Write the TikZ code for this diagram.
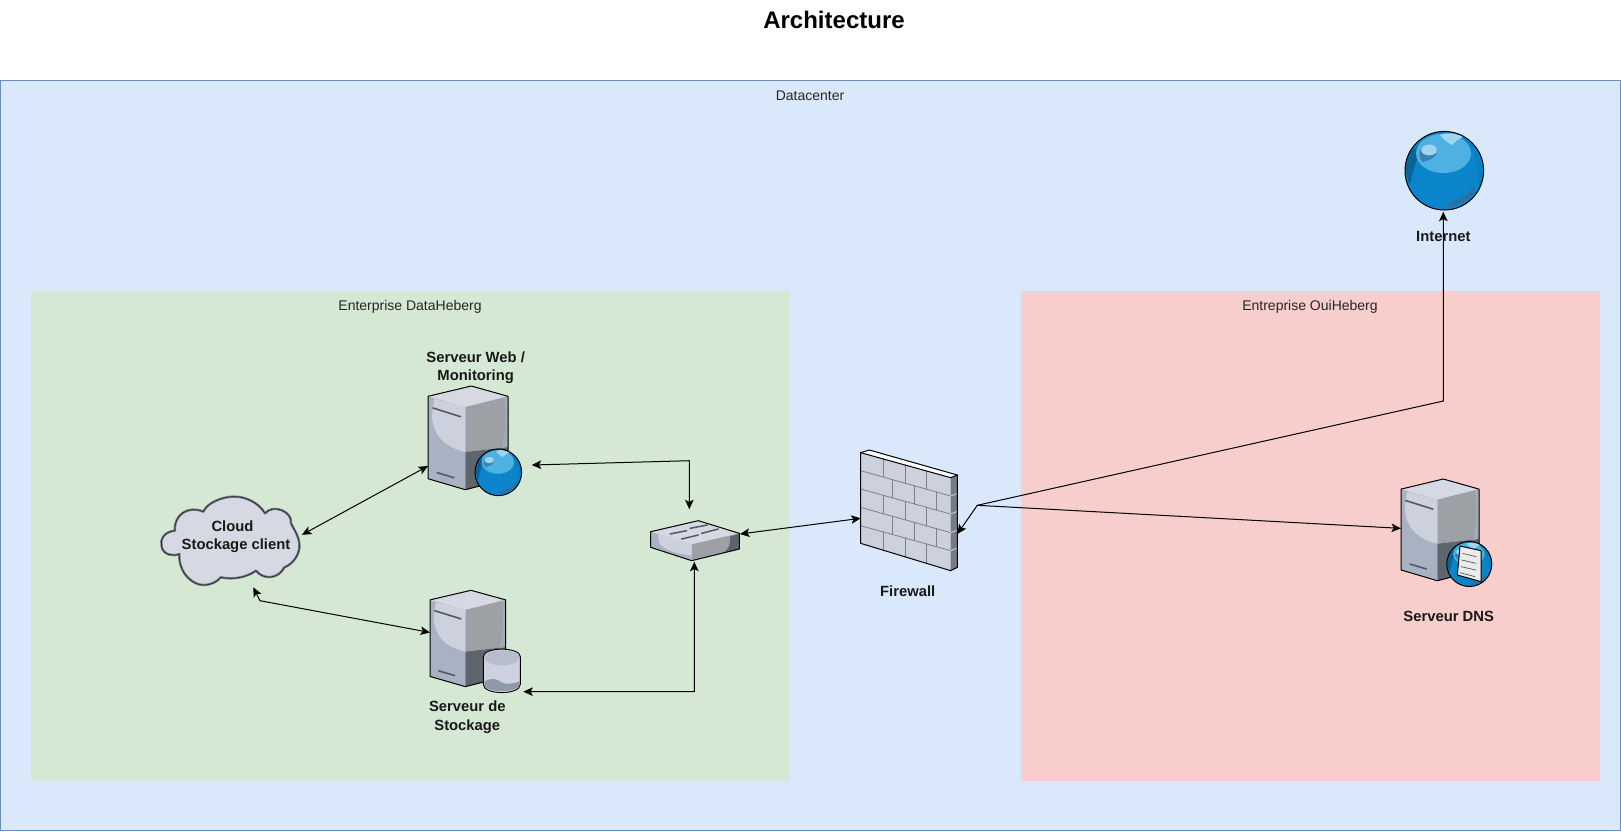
\documentclass[tikz,border=0pt]{standalone}
\usepackage{fontspec}
\setmainfont{Liberation Sans}
\usetikzlibrary{arrows.meta}

\definecolor{faceleft}{HTML}{A9B2C2}
\definecolor{facelight}{HTML}{CDD1DD}
\definecolor{facetop}{HTML}{D6D8E3}
\definecolor{faceright}{HTML}{9DA0A5}
\definecolor{facedark}{HTML}{5F656D}
\definecolor{barcol}{HTML}{555A62}
\definecolor{globebase}{HTML}{0A85CB}
\definecolor{globedark}{HTML}{0B6498}
\definecolor{globeshine}{HTML}{4FB0E2}
\definecolor{globespot}{HTML}{9FD5EF}
\definecolor{globeland}{HTML}{2F6E9E}

\tikzset{
  icon/.style={inner sep=0pt, outer sep=0pt, minimum width=#1},
  zonetext/.style={font=\fontsize{14pt}{16pt}\selectfont, text=black!85},
  boldtext/.style={font=\fontsize{14.8pt}{18.3pt}\selectfont\bfseries, text=black!90, align=center},
  server/.pic={
    \fill[faceleft] (0,10.3) -- (37.3,21) -- (37.3,103.7) -- (0,92.7) -- cycle;
    \fill[facetop] (0,10.3) -- (43.3,0) -- (80,10.3) -- (37.3,21) -- cycle;
    \fill[faceright] (37.3,21) -- (80,10.3) -- (80,61) -- (37.3,66) -- cycle;
    \fill[facedark] (37.3,66) -- (80,61) -- (80,92.7) -- (37.3,103.7) -- cycle;
    \fill[facelight] (6,13) -- (37.3,21) -- (37.3,66) .. controls (20,62) and (5,52) .. (4,30) -- cycle;
    \fill[faceleft!60!faceright] (76,12) -- (80,10.3) -- (80,61) -- (74,62) .. controls (78,45) and (78,25) .. (76,12) -- cycle;
    \draw[barcol, line width=1.6pt] (5,22) -- (32.7,30.7);
    \draw[barcol, line width=1.6pt] (9.3,86.7) -- (26,91.7);
    \draw[line width=1pt] (0,10.3) -- (43.3,0) -- (80,10.3) -- (80,92.7) -- (37.3,103.7) -- (0,92.7) -- cycle;
  },
  globe/.pic={
    \fill[globebase] (0,0) circle (1);
    \fill[globedark] (-0.87,-0.48) .. controls (-1.02,-0.2) and (-1,0.1) .. (-0.88,0.35) .. controls (-0.8,0.1) and (-0.75,-0.2) .. (-0.55,-0.7) -- cycle;
    \fill[globebase!75!globedark] (0.62,-0.78) .. controls (1.02,-0.3) and (1,0.2) .. (0.86,0.5) .. controls (0.9,0) and (0.8,-0.4) .. (0.62,-0.78) -- cycle;
    \fill[globeshine] (-0.02,-0.44) ellipse (0.7 and 0.5);
    \fill[globespot] (-0.11,-0.91) .. controls (0.1,-0.99) and (0.3,-0.95) .. (0.48,-0.86) .. controls (0.35,-0.82) and (0.25,-0.7) .. (0.19,-0.65) .. controls (0.05,-0.75) and (-0.05,-0.82) .. (-0.11,-0.91) -- cycle;
    \fill[globeland!70!globeshine] (-0.6,-0.55) .. controls (-0.5,-0.75) and (-0.3,-0.7) .. (-0.2,-0.5) .. controls (-0.2,-0.35) and (-0.3,-0.3) .. (-0.55,-0.22) .. controls (-0.65,-0.3) and (-0.65,-0.45) .. (-0.6,-0.55) -- cycle;
    \fill[globespot] (-0.39,-0.53) ellipse (0.2 and 0.14);
    \fill[globeland] (0.02,0.92) .. controls (0.2,0.72) and (0.4,0.76) .. (0.65,0.53) .. controls (0.7,0.45) and (0.75,0.4) .. (0.78,0.36) -- (0.74,0.62) -- (0.48,0.79) -- (0.19,0.92) -- cycle;
    \draw[line width=1pt] (0,0) circle (1);
  },
}

\begin{document}
\begin{tikzpicture}[x=1pt, y=-1pt, line cap=round, line join=round, >={Stealth[length=9.5pt,width=8.5pt,inset=2.2pt]}, line width=1pt]
\useasboundingbox (0,0) rectangle (1621,831);

%---------------------------------------------------------------------------------------------------
% zones
\filldraw[fill={rgb,255:red,218;green,232;blue,252}, draw={rgb,255:red,108;green,142;blue,191}] (0.5,80.5) rectangle (1620.5,830.5);
\fill[fill={rgb,255:red,213;green,232;blue,212}] (30.5,290.5) rectangle (790,780.5);
\fill[fill={rgb,255:red,248;green,206;blue,204}] (1020.5,290.5) rectangle (1600,780.5);

\node[font=\fontsize{24pt}{28pt}\selectfont\bfseries] (title) at (834,20) {Architecture};
\node[zonetext] (datacenter) at (810,96) {Datacenter};
\node[zonetext] (dataheberg) at (410,306.5) {Enterprise DataHeberg};
\node[zonetext] (ouiheberg) at (1310,306.5) {Entreprise OuiHeberg};

%---------------------------------------------------------------------------------------------------
% icon boxes
\node[icon=139.3pt, minimum height=88.3pt] (cloud) at (230.3,540.8) {};
\node[icon=80pt, minimum height=104pt] (web) at (468,438) {};
\node[icon=75.7pt, minimum height=96.3pt] (storage) at (467.85,638.45) {};
\node[icon=88.6pt, minimum height=40pt] (switch) at (695,540.7) {};
\node[icon=96.6pt, minimum height=120.7pt] (firewall) at (909,510.3) {};
\node[icon=78pt, minimum height=101.7pt] (dns) at (1440,529.85) {};
\node[icon=78.6pt, minimum height=78.6pt] (internet) at (1444.3,170.7) {};

%---------------------------------------------------------------------------------------------------
% cloud
\begin{scope}[shift={(130,340)}, scale=1/3]
\filldraw[fill=facetop, draw=faceleft!70!black, line width=2.4pt] (135,572) .. controls (100,575) and (90,600) .. (95,620)
  .. controls (100,645) and (130,650) .. (148,642)
  .. controls (145,700) and (190,738) .. (225,735)
  .. controls (245,733) and (262,725) .. (272,712)
  .. controls (310,720) and (350,712) .. (378,692)
  .. controls (400,720) and (445,718) .. (463,682)
  .. controls (490,672) and (512,640) .. (508,610)
  .. controls (505,585) and (490,565) .. (483,550)
  .. controls (488,515) and (430,490) .. (405,520)
  .. controls (385,485) and (340,468) .. (310,470)
  .. controls (275,470) and (230,490) .. (220,515)
  .. controls (175,495) and (130,525) .. (135,572) -- cycle;
\draw[draw=black!85, line width=0.7pt] (135,572) .. controls (100,575) and (90,600) .. (95,620)
  .. controls (100,645) and (130,650) .. (148,642)
  .. controls (145,700) and (190,738) .. (225,735)
  .. controls (245,733) and (262,725) .. (272,712)
  .. controls (310,720) and (350,712) .. (378,692)
  .. controls (400,720) and (445,718) .. (463,682)
  .. controls (490,672) and (512,640) .. (508,610)
  .. controls (505,585) and (490,565) .. (483,550)
  .. controls (488,515) and (430,490) .. (405,520)
  .. controls (385,485) and (340,468) .. (310,470)
  .. controls (275,470) and (230,490) .. (220,515)
  .. controls (175,495) and (130,525) .. (135,572) -- cycle;
\end{scope}

%---------------------------------------------------------------------------------------------------
% servers
\pic at (web.north west) {server};
\pic[xscale=0.946, yscale=0.929] at (storage.north west) {server};
\pic[xscale=0.975, yscale=0.981] at (dns.north west) {server};

\pic[scale=23.3] at (498.3,472.3) {globe};
\pic[scale=22.5] at (1469.3,564) {globe};
\pic[scale=39.3] at (internet) {globe};

% document on the dns globe
\begin{scope}[shift={(1380,460)}, scale=1/3]
\filldraw[fill=white!92!black, line width=1pt] (240,258) -- (303,272) -- (303,365) -- (232,345) -- cycle;
\draw[line width=0.7pt, barcol] (248,280) -- (288,290) (245,300) -- (288,310) (243,320) -- (288,330) (240,338) -- (285,350);
\end{scope}

% cylinder of the storage server
\begin{scope}[shift={(130,340)}, scale=1/3]
\fill[facetop!85!faceleft] (1060,950) -- (1060,1033) .. controls (1060,1066) and (1171,1066) .. (1171,1033) -- (1171,950) .. controls (1171,920) and (1060,920) .. (1060,950) -- cycle;
\fill[faceleft!85!black] (1063,1025) .. controls (1085,1012) and (1100,1015) .. (1115,1028) .. controls (1135,1035) and (1150,1030) .. (1168,1025) -- (1168,1033) .. controls (1168,1060) and (1063,1060) .. (1063,1033) -- cycle;
\fill[faceleft!70!facetop] (1063,950) .. controls (1065,985) and (1166,985) .. (1168,950) .. controls (1165,925) and (1066,925) .. (1063,950) -- cycle;
\draw[line width=0.9pt] (1060,950) -- (1060,1033) .. controls (1060,1066) and (1171,1066) .. (1171,1033) -- (1171,950) .. controls (1171,920) and (1060,920) .. (1060,950) -- cycle;
\end{scope}

%---------------------------------------------------------------------------------------------------
% switch
\begin{scope}[shift={(630,430)}, scale=1/3]
\fill[faceleft] (62,305) -- (185,343) -- (185,392) -- (62,352) -- cycle;
\fill[facetop] (62,305) -- (205,272) -- (328,310) -- (185,343) -- cycle;
\fill[faceright] (185,343) -- (328,310) -- (328,357) -- (185,392) -- cycle;
\fill[facelight] (85,310) -- (185,343) -- (185,377) .. controls (130,370) and (85,355) .. (85,325) -- cycle;
\fill[facedark] (300,320) -- (328,310) -- (328,357) -- (270,372) .. controls (295,365) and (302,345) .. (300,320) -- cycle;
\draw[barcol, line width=1.5pt] (120,312) -- (170,302) (180,295) -- (232,285) (155,327) -- (205,315) (215,310) -- (265,297);
\draw[line width=1pt] (62,305) -- (205,272) -- (328,310) -- (328,357) -- (185,392) -- (62,352) -- cycle;
\end{scope}

%---------------------------------------------------------------------------------------------------
% firewall
\begin{scope}[shift={(630,430)}, scale=1/3]
\fill[white] (692,68) -- (718,60) -- (982,135) -- (962,143) -- cycle;
\fill[facelight] (692,68) -- (962,143) -- (962,422) -- (692,340) -- cycle;
\fill[facedark!85!white] (962,143) -- (982,135) -- (982,412) -- (962,422) -- cycle;
\draw[black!50, line width=0.8pt] (692,122) -- (962,198) (692,177) -- (962,252) (692,232) -- (962,308) (692,287) -- (962,362);
\draw[black!15, line width=0.8pt] (962,198) -- (982,190) (962,252) -- (982,244) (962,308) -- (982,300) (962,362) -- (982,354);
\draw[black!50, line width=0.8pt] (760,87) -- (760,141) (825,105) -- (825,159.5) (890,123) -- (890,178);
\draw[black!50, line width=0.8pt] (788,149) -- (788,203.7) (853,167) -- (853,221.7) (918,185.6) -- (918,239.8);
\draw[black!50, line width=0.8pt] (760,196) -- (760,251) (825,214) -- (825,269.5) (890,232) -- (890,288);
\draw[black!50, line width=0.8pt] (788,259) -- (788,313.7) (853,277) -- (853,331.7) (918,295.6) -- (918,349.8);
\draw[black!50, line width=0.8pt] (760,306) -- (760,360.7) (825,324) -- (825,380.4) (890,342) -- (890,400);
\draw[line width=1pt] (692,68) -- (718,60) -- (982,135) -- (982,412) -- (962,422) -- (692,340) -- cycle;
\draw[line width=1pt] (692,68) -- (962,143) -- (982,135);
\end{scope}

%---------------------------------------------------------------------------------------------------
% connectors
\coordinate (cloudbend) at (260,600.7);
\coordinate (webbend) at (689.3,460.7);
\coordinate (storebend) at (694.3,691.7);
\coordinate (firebend) at (977.3,505.3);
\coordinate (netbend) at (1443.3,401);

\draw[<->] ([shift={(2pt,6pt)}]cloud.east) -- ([yshift=-28pt]web.west);
\draw[<->] ([shift={(23pt,-2.3pt)}]cloud.south) -- (cloudbend) -- ([yshift=6pt]storage.west);
\draw[<->] ([shift={(23.7pt,-27pt)}]web.east) -- (webbend) -- ([shift={(-5.7pt,11.4pt)}]switch.north);
\draw[<->] ([shift={(17.6pt,-53.2pt)}]storage.east) -- (storebend) -- ([shift={(-0.7pt,-1pt)}]switch.south);
\draw[<->] ([shift={(0.7pt,6.7pt)}]switch.east) -- ([yshift=-8pt]firewall.west);
\draw[<->] ([yshift=-23.7pt]firewall.east) -- (firebend) -- (netbend) -- ([shift={(-1pt,-1.7pt)}]internet.south);
\draw[->] (firebend) -- ([yshift=1.5pt]dns.west);

%---------------------------------------------------------------------------------------------------
% labels
\node[boldtext] (cloudtext) at (236,537) {Cloud\hspace*{7pt}\\Stockage client};
\node[boldtext] (webtext) at (475.7,367.5) {Serveur Web /\\Monitoring};
\node[boldtext] (storagetext) at (467.3,717.3) {Serveur de\\Stockage};
\node[boldtext] (firewalltext) at (907.7,591.5) {Firewall};
\node[boldtext] (dnstext) at (1448.7,616.5) {Serveur DNS};
\node[boldtext] (internettext) at (1443.3,236.5) {Internet};

\end{tikzpicture}
\end{document}
